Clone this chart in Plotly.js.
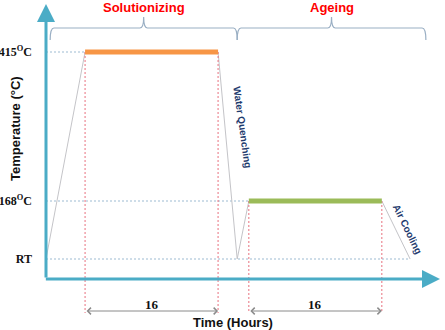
<!DOCTYPE html>
<html>
<head>
<meta charset="utf-8">
<script src="https://cdn.plot.ly/plotly-3.0.1.min.js"></script>
<style>html,body{margin:0;padding:0;background:#fff;}#chart{width:445px;height:330px;}</style>
</head>
<body>
<div id="chart"></div>
<script>
// ---- data (schematic heat-treatment profile) ----
const stageNames = ['Solutionizing', 'Ageing'];
const holdHours = [16, 16];
const processNotes = ['Water Quenching', 'Air Cooling'];
// time (hours) of profile breakpoints
const profileTime = [0, 4.7, 20.7, 23.0, 24.4, 40.4, 43.8];
// schematic temperature level of each breakpoint (not to scale)
const profileLevel = [20, 227, 227, 20, 78, 78, 20];
// temperature tick positions and labels
const tempTickLevels = [20, 78, 227];
const tempTickLabels = ['RT', '168<sup>O</sup>C', '415<sup>O</sup>C'];

// ---- styling ----
const teal = '#4BACC6';
const guideColor = '#9DBBD2';
const redDot = '#E8707E';
const navy = '#1F3B6E';
const braceColor = '#9AAFC4';

const traces = [];
const rtLevel = tempTickLevels[0];
const guides = [
  {lvl: profileLevel[1], end: profileTime[1]},
  {lvl: profileLevel[4], end: profileTime[4]},
  {lvl: rtLevel, end: profileTime[6]}
];
guides.forEach(g => traces.push({
  x: [0, g.end], y: [g.lvl, g.lvl], mode: 'lines', type: 'scatter',
  line: {color: guideColor, width: 1, dash: '2px,2px'}, hoverinfo: 'skip'
}));
traces.push({
  x: profileTime, y: profileLevel, mode: 'lines', type: 'scatter',
  line: {color: '#C4C4C8', width: 1}, hoverinfo: 'skip'
});
const holdIdx = [[1, 2], [4, 5]];
const vBottom = -34;
holdIdx.forEach(([a, b]) => {
  [a, b].forEach(i => traces.push({
    x: [profileTime[i], profileTime[i]], y: [profileLevel[i], vBottom],
    mode: 'lines', type: 'scatter',
    line: {color: redDot, width: 1, dash: '2px,2px'}, hoverinfo: 'skip'
  }));
});
const barColors = ['#F79646', '#9BBB59'];
holdIdx.forEach(([a, b], k) => traces.push({
  x: [profileTime[a], profileTime[b]], y: [profileLevel[a], profileLevel[b]],
  mode: 'lines', type: 'scatter',
  line: {color: barColors[k], width: 5}, hoverinfo: 'skip'
}));

const annotations = [];
const shapes = [];
// axis arrows
annotations.push({x: 0, y: 275, ax: 0, ay: 0, axref: 'x', ayref: 'y', xref: 'x', yref: 'y',
  text: '', showarrow: true, arrowhead: 2, arrowsize: 1.2, arrowwidth: 3, arrowcolor: teal});
annotations.push({x: 47.4, y: 0, ax: -0.2, ay: 0, axref: 'x', ayref: 'y', xref: 'x', yref: 'y',
  text: '', showarrow: true, arrowhead: 2, arrowsize: 1.2, arrowwidth: 3, arrowcolor: teal});

// duration arrows and labels
const durY = -32;
holdIdx.forEach(([a, b], k) => {
  annotations.push({x: profileTime[b], y: durY, ax: profileTime[a], ay: durY,
    axref: 'x', ayref: 'y', xref: 'x', yref: 'y', text: '', showarrow: true,
    arrowhead: 4, startarrowhead: 4, arrowside: 'end+start', arrowsize: 1.3, startarrowsize: 1.3,
    arrowwidth: 1, arrowcolor: '#8a8a8a'});
  annotations.push({x: (profileTime[a] + profileTime[b]) / 2, y: -25, xref: 'x', yref: 'y',
    text: '<b>' + holdHours[k] + '</b>', showarrow: false,
    font: {family: 'Liberation Serif', size: 13, color: '#111'}});
});

// braces and stage names
const braceSpans = [[0.5, profileTime[3]], [profileTime[3], 45.7]];
const bTip = 239, bTop = 251, bPeak = 262, r = 0.45;
braceSpans.forEach(([x0, x1], k) => {
  const xm = (x0 + x1) / 2;
  shapes.push({type: 'path', xref: 'x', yref: 'y',
    path: `M${x0},${bTip} Q${x0},${bTop} ${x0 + r},${bTop} L${xm - r},${bTop} Q${xm},${bTop} ${xm},${bPeak} Q${xm},${bTop} ${xm + r},${bTop} L${x1 - r},${bTop} Q${x1},${bTop} ${x1},${bTip}`,
    line: {color: braceColor, width: 1.2}});
  annotations.push({x: xm, y: 272, xref: 'x', yref: 'y', text: '<b>' + stageNames[k] + '</b>',
    showarrow: false, font: {family: 'Liberation Sans', size: 13, color: '#FF0000'}});
});

// process notes
annotations.push({x: 23.7, y: 152, xref: 'x', yref: 'y', text: '<b>' + processNotes[0] + '</b>',
  showarrow: false, textangle: 82, font: {family: 'Liberation Sans', size: 10, color: navy}});
annotations.push({x: 43.55, y: 50, xref: 'x', yref: 'y', text: '<b>' + processNotes[1] + '</b>',
  showarrow: false, textangle: 64, font: {family: 'Liberation Sans', size: 10, color: navy}});

// axis titles
annotations.push({x: -31 / 399, y: 150, xref: 'paper', yref: 'y', xanchor: 'center', yanchor: 'middle',
  text: '<b>Temperature (°C)</b>',
  showarrow: false, textangle: -90, font: {family: 'Liberation Sans', size: 13, color: '#111'}});
annotations.push({x: 22.45, y: -43, xref: 'x', yref: 'y', text: '<b>Time (Hours)</b>',
  showarrow: false, font: {family: 'Liberation Sans', size: 13, color: '#111'}});

const layout = {
  width: 445, height: 330,
  margin: {l: 46, r: 0, t: 0, b: 0},
  paper_bgcolor: '#fff', plot_bgcolor: 'rgba(0,0,0,0)',
  showlegend: false,
  xaxis: {range: [0, 48.0], showgrid: false, zeroline: false, showline: false,
    showticklabels: false, ticks: '', fixedrange: true},
  yaxis: {range: [-51, 279], showgrid: false, zeroline: false, showline: false,
    tickmode: 'array', tickvals: tempTickLevels, ticktext: tempTickLabels, ticks: '',
    ticklabelstandoff: 13,
    tickfont: {family: 'Liberation Serif', size: 12, color: '#111', weight: 'bold'}, fixedrange: true},
  annotations: annotations,
  shapes: shapes
};
Plotly.newPlot('chart', traces, layout, {staticPlot: true, displayModeBar: false});
</script>
</body>
</html>
